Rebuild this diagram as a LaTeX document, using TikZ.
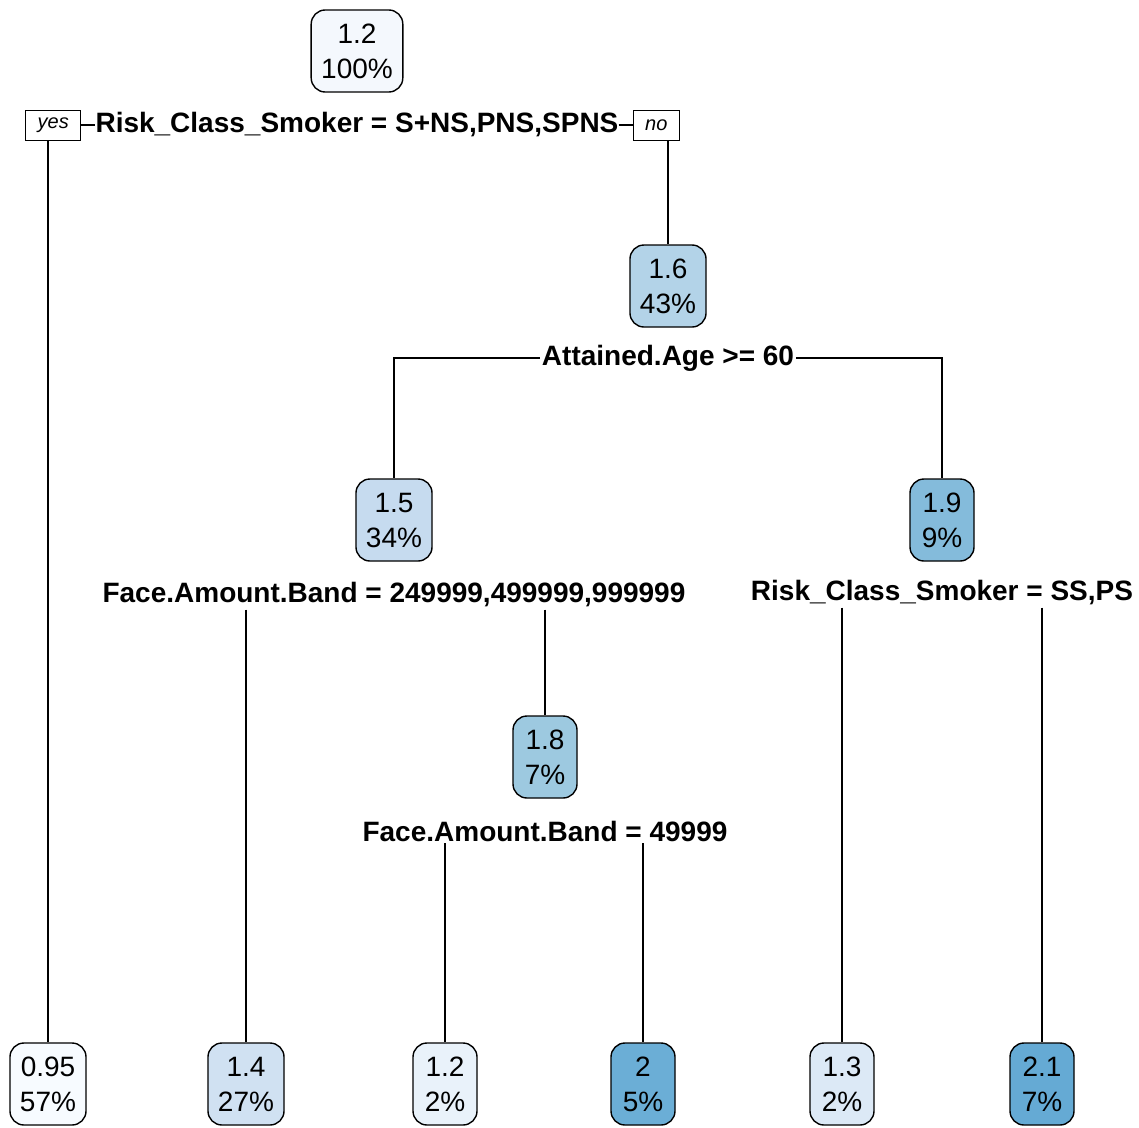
\documentclass[tikz,border=0pt]{standalone}
\usepackage{fontspec}
\setmainfont{Liberation Sans}
\usetikzlibrary{shapes,arrows,positioning}

% fill colours of the fitted values
\definecolor{v100}{HTML}{F4F8FD}
\definecolor{v57}{HTML}{F7FBFF}
\definecolor{v43}{HTML}{B3D3E8}
\definecolor{v34}{HTML}{C6DBEF}
\definecolor{v9}{HTML}{84BBDB}
\definecolor{v27}{HTML}{D0E1F2}
\definecolor{v7a}{HTML}{9DC9E0}
\definecolor{v2a}{HTML}{E9F2FA}
\definecolor{v5}{HTML}{6BAED6}
\definecolor{v2b}{HTML}{DCE9F6}
\definecolor{v7b}{HTML}{65AAD4}

\begin{document}
\begin{tikzpicture}[x=1pt,y=-1pt,
  rnode/.style={draw,rounded corners=14pt,line width=1.4pt,align=center,minimum width=64pt,minimum height=82pt,inner xsep=10pt,font=\fontsize{28}{35}\selectfont},
  split/.style={fill=white,inner xsep=0pt,inner ysep=2pt,font=\fontsize{28}{34}\selectfont\bfseries},
  lbl/.style={draw,line width=1pt,inner xsep=12pt,minimum height=30pt,font=\fontsize{20}{24}\selectfont\itshape},
  branch/.style={line width=1.3pt}]
\useasboundingbox (0,0) rectangle (1139,1127);
% root and first split
\node[rnode, fill=v100] (n1) at (357,51) {1.2\\100\%};
\node[split] (s1) at (357,125) {Risk\_Class\_Smoker = S+NS,PNS,SPNS};
\node[lbl, left=14pt of s1] (yes) {yes};
\node[lbl, right=14pt of s1] (no) {no};
% inner nodes
\node[rnode, fill=v43] (n16) at (668,286) {1.6\\43\%};
\node[split, inner xsep=2pt] (s2) at (668,358) {Attained.Age >= 60};
\node[rnode, fill=v34] (n15) at (394,520) {1.5\\34\%};
\node[rnode, fill=v9] (n19) at (942,520) {1.9\\9\%};
\node[split] (s3) at (394,595) {Face.Amount.Band = 249999,499999,999999};
\node[split] (s4) at (942,593) {Risk\_Class\_Smoker = SS,PS};
\node[rnode, fill=v7a] (n18) at (545,757) {1.8\\7\%};
\node[split] (s5) at (545,831) {Face.Amount.Band = 49999};
% leaves
\node[rnode, fill=v57] (la) at (48,1084) {0.95\\57\%};
\node[rnode, fill=v27] (lb) at (246,1084) {1.4\\27\%};
\node[rnode, fill=v2a] (lc) at (445,1084) {1.2\\2\%};
\node[rnode, fill=v5] (ld) at (643,1084) {2\\5\%};
\node[rnode, fill=v2b] (le) at (842,1084) {1.3\\2\%};
\node[rnode, fill=v7b] (lf) at (1042,1084) {2.1\\7\%};
% branches
\draw[branch] (yes.east) -- (s1.west);
\draw[branch] (s1.east) -- (no.west);
\draw[branch] (yes.south -| la) -- (la.north);
\draw[branch] (no.south -| n16) -- (n16.north);
\draw[branch] (s2.west) -| (n15.north);
\draw[branch] (s2.east) -| (n19.north);
\draw[branch] (s3.south -| lb) -- (lb.north);
\draw[branch] (s3.south -| n18) -- (n18.north);
\draw[branch] (s4.south -| le) -- (le.north);
\draw[branch] (s4.south -| lf) -- (lf.north);
\draw[branch] (s5.south -| lc) -- (lc.north);
\draw[branch] (s5.south -| ld) -- (ld.north);
\end{tikzpicture}
\end{document}
